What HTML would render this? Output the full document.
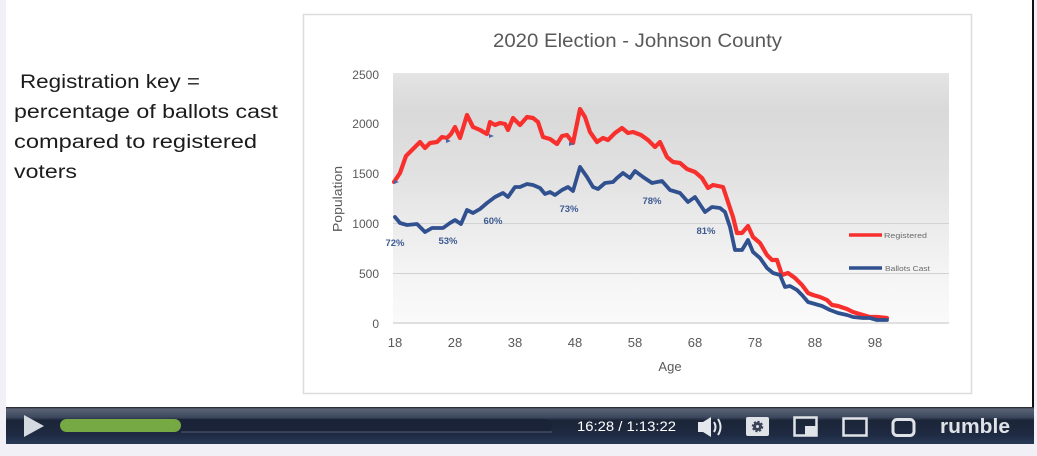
<!DOCTYPE html>
<html><head><meta charset="utf-8"><style>
html,body{margin:0;padding:0;background:#fff;}
svg{display:block;}
</style></head><body>
<svg width="1037" height="456" viewBox="0 0 1037 456" xmlns="http://www.w3.org/2000/svg" font-family="Liberation Sans, sans-serif">
<defs>
<linearGradient id="pg" x1="0" y1="0" x2="0" y2="1">
<stop offset="0" stop-color="#e4e4e4"/>
<stop offset="0.15" stop-color="#d9d9d9"/>
<stop offset="0.4" stop-color="#e1e1e1"/>
<stop offset="0.6" stop-color="#ebebeb"/>
<stop offset="0.8" stop-color="#f4f4f4"/>
<stop offset="1" stop-color="#fafafa"/>
</linearGradient>
<linearGradient id="bar" x1="0" y1="0" x2="0" y2="1">
<stop offset="0" stop-color="#2c3240"/>
<stop offset="0.06" stop-color="#5a6374"/>
<stop offset="0.28" stop-color="#3c475e"/>
<stop offset="0.36" stop-color="#1c2538"/>
<stop offset="0.75" stop-color="#1e2a42"/>
<stop offset="1" stop-color="#2a3a58"/>
</linearGradient>
</defs>
<!-- page background -->
<rect x="0" y="0" width="1037" height="456" fill="#ffffff"/>
<rect x="0" y="0" width="6" height="456" fill="#f0f0f6"/>
<rect x="0" y="444" width="1037" height="12" fill="#f0f0f6"/>
<rect x="1034" y="0" width="3" height="456" fill="#f0f0f6"/>
<rect x="1032" y="0" width="2" height="407" fill="#111"/>

<!-- left text -->
<g fill="#1c1c1c" font-size="19">
<text x="20" y="88" textLength="180" lengthAdjust="spacingAndGlyphs">Registration key =</text>
<text x="14" y="118" textLength="264" lengthAdjust="spacingAndGlyphs">percentage of ballots cast</text>
<text x="14" y="148" textLength="243" lengthAdjust="spacingAndGlyphs">compared to registered</text>
<text x="14" y="178" textLength="63" lengthAdjust="spacingAndGlyphs">voters</text>
</g>

<!-- chart box -->
<rect x="303.5" y="14.5" width="668" height="379" fill="#fff" stroke="#dcdcdc" stroke-width="1.5"/>
<text x="493" y="47" font-size="19" fill="#595959" textLength="289" lengthAdjust="spacingAndGlyphs">2020 Election - Johnson County</text>

<!-- plot area -->
<rect x="393" y="73" width="556" height="250" fill="url(#pg)"/>
<g stroke="#d2d2d2" stroke-width="1">
<line x1="393" y1="223.5" x2="949" y2="223.5"/>
<line x1="393" y1="273.5" x2="949" y2="273.5"/>
<line x1="393" y1="323" x2="949" y2="323" stroke="#d6d6d6" stroke-width="1.5"/>
</g>

<!-- y tick labels -->
<g font-size="12" fill="#595959" text-anchor="end">
<text x="379" y="79">2500</text>
<text x="379" y="128">2000</text>
<text x="379" y="178">1500</text>
<text x="379" y="228">1000</text>
<text x="379" y="278">500</text>
<text x="379" y="328">0</text>
</g>
<!-- x tick labels -->
<g font-size="13" fill="#595959" text-anchor="middle">
<text x="395" y="347">18</text>
<text x="455" y="347">28</text>
<text x="515" y="347">38</text>
<text x="575" y="347">48</text>
<text x="635" y="347">58</text>
<text x="695" y="347">68</text>
<text x="755" y="347">78</text>
<text x="815" y="347">88</text>
<text x="875" y="347">98</text>
</g>
<text x="670" y="371" font-size="13" fill="#595959" text-anchor="middle">Age</text>
<text transform="translate(342,199) rotate(-90)" font-size="13" fill="#595959" text-anchor="middle" textLength="66" lengthAdjust="spacingAndGlyphs">Population</text>

<!-- series -->
<polyline fill="none" stroke="#f7302e" stroke-width="4.2" stroke-linejoin="round" stroke-linecap="round" points="394,182 400,173 406,156 412,150 420,142 425,148 430,143 437,142 442,137 447,138 451,134 455,127 460,138 467,115 473,127 480,130 487,134 490,122 495,125 500,123 505,124 508,130 513,118 520,125 527,117 533,118 538,122 543,137 550,139 557,144 562,136 567,135 573,143 580,109 585,117 590,132 597,142 603,138 608,140 615,133 622,128 628,133 633,132 641,135 648,140 655,147 660,142 667,157 673,162 680,163 687,169 695,172 702,178 708,188 713,185 723,187 728,202 733,217 737,233 742,233 748,226 753,237 760,243 767,255 772,260 777,260 782,275 788,273 795,278 802,285 808,293 813,295 820,297 827,300 832,305 838,306 847,309 853,312 863,315 870,317 877,317 887,318"/>
<polyline fill="none" stroke="#30508f" stroke-width="3.8" stroke-linejoin="round" stroke-linecap="round" points="395,217 400,223 407,225 417,224 425,232 432,228 443,228 450,223 455,220 461,224 467,210 473,213 480,209 487,203 495,197 503,193 508,197 515,187 520,187 527,184 533,185 540,188 545,194 550,192 555,195 562,190 568,187 573,191 580,167 587,177 593,187 598,189 605,183 613,182 617,178 623,173 630,178 635,171 643,177 652,183 662,181 670,190 680,193 688,202 695,197 705,212 712,207 720,208 725,212 730,227 735,250 742,250 748,240 753,252 760,258 767,268 773,273 780,275 785,287 790,286 797,290 802,295 808,302 815,304 822,306 830,310 838,313 847,315 853,317 863,318 870,318 877,320 887,320"/>
<!-- tiny markers -->
<g fill="#4a66a8">
<polygon points="446,143 451,141 446,139"/>
<polygon points="489,138 494,136 489,134"/>
<polygon points="569,146 574,144 569,142"/>
<polygon points="394,184 399,182 394,180"/>
</g>

<!-- data labels -->
<g font-size="9.5" font-weight="bold" fill="#3d5a92" text-anchor="middle">
<text x="395" y="246">72%</text>
<text x="448" y="244">53%</text>
<text x="493" y="224">60%</text>
<text x="569" y="212">73%</text>
<text x="652" y="204">78%</text>
<text x="706" y="234">81%</text>
</g>

<!-- legend -->
<line x1="849" y1="235" x2="882" y2="235" stroke="#f7302e" stroke-width="3.5"/>
<text x="884" y="238" font-size="7" fill="#6a6a6a" textLength="43" lengthAdjust="spacingAndGlyphs">Registered</text>
<line x1="849" y1="268" x2="882" y2="268" stroke="#30508f" stroke-width="3.5"/>
<text x="885" y="271" font-size="7" fill="#6a6a6a" textLength="45" lengthAdjust="spacingAndGlyphs">Ballots Cast</text>

<!-- player bar -->
<rect x="6" y="407" width="1028" height="37" fill="url(#bar)"/>
<line x1="6" y1="407.5" x2="1034" y2="407.5" stroke="#2a2e36" stroke-width="1"/>
<polygon points="24,415 44,426 24,437" fill="#d5d9e0"/>
<rect x="60" y="419" width="492" height="13" rx="6.5" fill="#1a2337"/>
<line x1="181" y1="432" x2="552" y2="432" stroke="#7a8498" stroke-width="1" opacity="0.6"/>
<rect x="60" y="419" width="121" height="13" rx="6.5" fill="#76a843"/>
<text x="577" y="431" font-size="14" fill="#ffffff" textLength="99" lengthAdjust="spacingAndGlyphs">16:28 / 1:13:22</text>
<!-- speaker -->
<g fill="#e4e7ec">
<rect x="698" y="422" width="6" height="10"/>
<polygon points="703,422 711,417 711,437 703,432"/>
</g>
<path d="M714,422 Q717,427 714,432" stroke="#e4e7ec" stroke-width="2" fill="none"/>
<path d="M718,419 Q723,427 718,435" stroke="#e4e7ec" stroke-width="2" fill="none"/>
<!-- gear -->
<rect x="746" y="417" width="23" height="19" rx="2" fill="#dfe2e7"/>
<circle cx="757.5" cy="426.5" r="4.5" fill="#3b4457" stroke="#3b4457" stroke-width="2.5" stroke-dasharray="2 1.5"/>
<circle cx="757.5" cy="426.5" r="1.5" fill="#dfe2e7"/>
<!-- pip -->
<rect x="794.5" y="417.5" width="22" height="18" fill="none" stroke="#e0e3e8" stroke-width="2.5"/>
<rect x="805" y="426" width="11" height="9" fill="#e0e3e8"/>
<!-- theater -->
<rect x="843.5" y="418.5" width="23" height="17" fill="none" stroke="#e0e3e8" stroke-width="2.5"/>
<!-- fullscreen -->
<rect x="893" y="419.5" width="21" height="16" rx="4" fill="none" stroke="#e0e3e8" stroke-width="3"/>
<text x="940" y="433" font-size="20" font-weight="bold" fill="#dfe2e7" textLength="70" lengthAdjust="spacingAndGlyphs">rumble</text>
</svg>
</body></html>
